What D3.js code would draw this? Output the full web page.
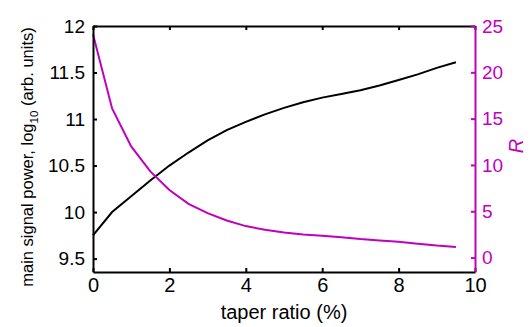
<!DOCTYPE html>
<html>
<head>
<meta charset="utf-8">
<script src="https://cdn.jsdelivr.net/npm/d3@7"></script>
<style>
  body { margin: 0; background: #fff; }
  text { font-family: "Liberation Sans", Arial, Helvetica, sans-serif; }
</style>
</head>
<body>
<div id="chart-area"></div>
<script>
// Data
var taper = [0, 0.5, 1, 1.5, 2, 2.5, 3, 3.5, 4, 4.5, 5, 5.5, 6, 6.5, 7, 7.5, 8, 8.5, 9, 9.5]
var signalPower = [9.75, 10.0, 10.17, 10.34, 10.5, 10.64, 10.77, 10.88, 10.97, 11.05,
                   11.12, 11.18, 11.23, 11.27, 11.31, 11.36, 11.42, 11.48, 11.55, 11.61]
var ratioR = [24.1, 16.1, 12.0, 9.3, 7.3, 5.8, 4.8, 4.0, 3.4, 3.0,
              2.7, 2.5, 2.35, 2.2, 2.0, 1.85, 1.7, 1.5, 1.3, 1.15]
var xTicks = [0, 2, 4, 6, 8, 10]
var leftTicks = [9.5, 10, 10.5, 11, 11.5, 12]
var rightTicks = [0, 5, 10, 15, 20, 25]

var magenta = "#bf00bf"

// Canvas
var margin = {top: 26, right: 57, bottom: 55, left: 93},
    width = 532 - margin.left - margin.right,
    height = 327 - margin.top - margin.bottom

var svg = d3.select("#chart-area")
    .append("svg")
        .attr("width", 532)
        .attr("height", 327)

var g = svg.append("g")
    .attr("transform", "translate(" + margin.left + ", " + margin.top + ")")

// Scales
var x = d3.scaleLinear().domain([0, 10]).range([0, width])
var yL = d3.scaleLinear().domain([9.356, 12]).range([height, 0])
var yR = d3.scaleLinear().domain([-1.556, 25]).range([height, 0])

// Lines
var lineL = d3.line()
    .x((d, i) => x(taper[i]))
    .y(d => yL(d))
var lineR = d3.line()
    .x((d, i) => x(taper[i]))
    .y(d => yR(d))

g.append("path")
    .attr("d", lineL(signalPower))
    .attr("fill", "none")
    .attr("stroke", "#000")
    .attr("stroke-width", 2)

g.append("path")
    .attr("d", lineR(ratioR))
    .attr("fill", "none")
    .attr("stroke", magenta)
    .attr("stroke-width", 2)

// Axes (ticks point inward)
function styleAxis(sel, color) {
    sel.selectAll("path").attr("stroke", color).attr("stroke-width", 2)
    sel.selectAll("line").attr("stroke", color).attr("stroke-width", 2)
    sel.selectAll("text")
        .attr("fill", color)
        .attr("font-size", 19)
        .attr("font-family", "'Liberation Sans', Arial, sans-serif")
}

var plain = d => String(d)

var topAxis = g.append("g")
    .call(d3.axisTop(x).tickValues(xTicks).tickSizeInner(-4).tickSizeOuter(0).tickFormat(""))
styleAxis(topAxis, "#000")

var xAxis = g.append("g")
    .attr("transform", "translate(0, " + height + ")")
    .call(d3.axisBottom(x).tickValues(xTicks).tickSizeInner(-4).tickSizeOuter(0)
        .tickPadding(6).tickFormat(plain))
styleAxis(xAxis, "#000")
xAxis.selectAll("text").attr("font-size", 20)

var leftAxis = g.append("g")
    .call(d3.axisLeft(yL).tickValues(leftTicks).tickSizeInner(-4).tickSizeOuter(0)
        .tickPadding(8).tickFormat(plain))
styleAxis(leftAxis, "#000")

var rightAxis = g.append("g")
    .attr("transform", "translate(" + width + ", 0)")
    .call(d3.axisRight(yR).tickValues(rightTicks).tickSizeInner(-4).tickSizeOuter(0)
        .tickPadding(7).tickFormat(plain))
styleAxis(rightAxis, magenta)

// Axis labels
g.append("text")
    .attr("x", width / 2)
    .attr("y", height + 47)
    .attr("text-anchor", "middle")
    .attr("font-size", 20)
    .text("taper ratio (%)")

var yLabel = g.append("text")
    .attr("transform", "translate(-60, " + (height / 2 + 8) + ") rotate(-90)")
    .attr("text-anchor", "middle")
    .attr("font-size", 16.5)
yLabel.append("tspan").text("main signal power, log")
yLabel.append("tspan").attr("font-size", 11.5).attr("dy", 5).text("10")
yLabel.append("tspan").attr("dy", -5).text(" (arb. units)")

g.append("text")
    .attr("transform", "translate(" + (width + 48) + ", " + (height / 2 - 3) + ") rotate(-90)")
    .attr("text-anchor", "middle")
    .attr("font-size", 20)
    .attr("font-style", "italic")
    .attr("fill", magenta)
    .text("R")
</script>
</body>
</html>
